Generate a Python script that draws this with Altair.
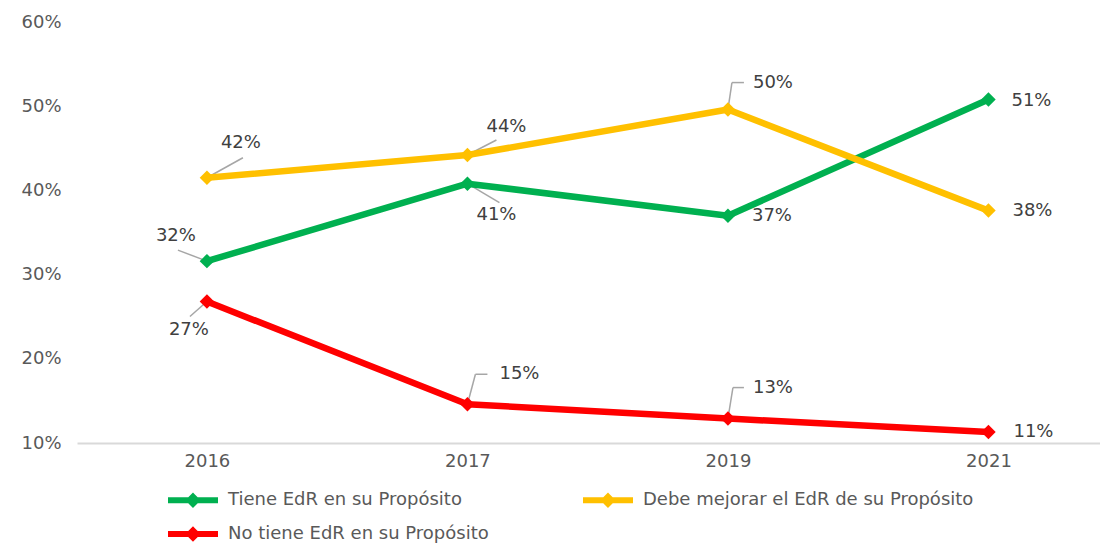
import altair as alt
import pandas as pd

# ---- data ----
years = ["2016", "2017", "2019", "2021"]
series = [
    "Tiene EdR en su Propósito",
    "Debe mejorar el EdR de su Propósito",
    "No tiene EdR en su Propósito",
]
tiene = [31.6, 40.8, 37.0, 50.8]
debe = [41.5, 44.2, 49.6, 37.6]
no_tiene = [26.8, 14.6, 12.9, 11.3]
tiene_labels = ["32%", "41%", "37%", "51%"]
debe_labels = ["42%", "44%", "50%", "38%"]
no_tiene_labels = ["27%", "15%", "13%", "11%"]
y_ticks = [10, 20, 30, 40, 50, 60]

# ---- style ----
colors = ["#00B050", "#FFC000", "#FF0000"]
FONT = "DejaVu Sans"
# legend order (legend grid fills column by column)
legend_order = [series[0], series[2], series[1]]
legend_colors = [colors[0], colors[2], colors[1]]
# label placement (pixel offsets from each point) and leader segments
placements = {
    (0, 0): dict(dx=-31, dy=-25, leader=[(0, 0, -29, -11)]),
    (0, 1): dict(dx=29, dy=31, leader=[(0, 0, 32, 19)]),
    (0, 2): dict(dx=44, dy=0, leader=[]),
    (0, 3): dict(dx=43, dy=2, leader=[]),
    (1, 0): dict(dx=34, dy=-35, leader=[(0, 0, 36, -20)]),
    (1, 1): dict(dx=39, dy=-28, leader=[(0, 0, 29, -15)]),
    (1, 2): dict(dx=45, dy=-27, leader=[(0, 0, 4, -27), (4, -27, 16, -27)]),
    (1, 3): dict(dx=44, dy=0, leader=[]),
    (2, 0): dict(dx=-18, dy=28, leader=[(0, 0, -17, 15)]),
    (2, 1): dict(dx=52, dy=-30, leader=[(0, 0, 8, -30), (8, -30, 20, -30)]),
    (2, 2): dict(dx=45, dy=-31, leader=[(0, 0, 5, -31), (5, -31, 16, -31)]),
    (2, 3): dict(dx=45, dy=0, leader=[]),
}

rows = []
for si, (name, vals, labs) in enumerate(
    zip(series, [tiene, debe, no_tiene], [tiene_labels, debe_labels, no_tiene_labels])
):
    for yi, (yr, v, lab) in enumerate(zip(years, vals, labs)):
        rows.append({"year": yr, "serie": name, "value": v, "label": lab, "si": si, "yi": yi})
df = pd.DataFrame(rows)

base = alt.Chart(df)

x_enc = alt.X(
    "year:O",
    scale=alt.Scale(type="point", domain=years, padding=0.4635, align=0.538),
    axis=alt.Axis(
        title=None, labelAngle=0, ticks=False, grid=False, domain=True,
        domainColor="#D9D9D9", domainWidth=2, labelFont=FONT, labelFontSize=18,
        labelColor="#595959", labelPadding=9,
    ),
)
y_enc = alt.Y(
    "value:Q",
    scale=alt.Scale(domain=[10, 60], nice=False, zero=False),
    axis=alt.Axis(
        title=None, values=y_ticks, labelExpr="datum.value + '%'", ticks=False,
        grid=False, domain=False, labelFont=FONT, labelFontSize=18,
        labelColor="#595959", labelAlign="left", labelPadding=56,
    ),
)
legend_path = "M-2.5,0H2.5M0,-0.35L0.35,0L0,0.35L-0.35,0Z"
color_enc = alt.Color(
    "serie:N",
    scale=alt.Scale(domain=legend_order, range=legend_colors),
    legend=alt.Legend(
        title=None, orient="none", legendX=103, legendY=465, columns=2,
        symbolType=legend_path, symbolSize=400, symbolStrokeWidth=6,
        labelFont=FONT, labelFontSize=18, labelColor="#595959", labelLimit=500,
        labelOffset=22, columnPadding=82, rowPadding=2, padding=0,
    ),
)

layers = []
# leader lines
for (si, yi), p in placements.items():
    for (x1, y1, x2, y2) in p["leader"]:
        layers.append(
            base.transform_filter(
                (alt.datum.si == si) & (alt.datum.yi == yi)
            ).mark_rule(
                color="#A6A6A6", strokeWidth=1.5,
                xOffset=x1, yOffset=y1, x2Offset=x2, y2Offset=y2,
            ).encode(x=x_enc, y=y_enc, x2="year:O", y2="value:Q")
        )
# lines and markers
for si in [0, 1, 2]:
    sub = base.transform_filter(alt.datum.si == si)
    layers.append(sub.mark_line(strokeWidth=6.5, strokeJoin="round").encode(x=x_enc, y=y_enc, color=color_enc))
    layers.append(
        sub.mark_point(shape="diamond", filled=True, size=210, opacity=1).encode(
            x=x_enc, y=y_enc, color=color_enc
        )
    )
# labels
for (si, yi), p in placements.items():
    layers.append(
        base.transform_filter((alt.datum.si == si) & (alt.datum.yi == yi))
        .mark_text(
            font=FONT, fontSize=18, color="#404040", align="center",
            baseline="middle", dx=p["dx"], dy=p["dy"],
        )
        .encode(x=x_enc, y=y_enc, text="label:N")
    )

chart = (
    alt.layer(*layers)
    .properties(
        width=1023, height=421,
        autosize=alt.AutoSizeParams(type="none"),
        padding={"left": 69, "top": 14, "right": 0, "bottom": 103},
        background="white",
    )
    .configure_view(stroke=None)
)

chart.save("out.html", embed_options={"renderer": "svg", "actions": False})
